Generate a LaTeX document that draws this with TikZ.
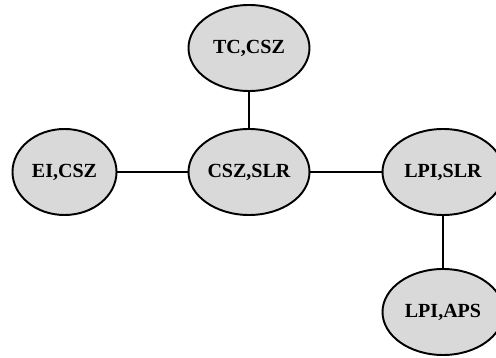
\documentclass[tikz,border=0pt]{standalone}
\usepackage{fontspec}
\setmainfont{Liberation Serif}
\usetikzlibrary{shapes.geometric}

\tikzset{
  blob/.style={ellipse, draw=black, line width=1.1pt, fill=black!15,
    inner sep=0pt, minimum width=2.42cm, minimum height=1.72cm,
    font=\fontsize{11.4}{13}\selectfont\bfseries},
  link/.style={black, line width=0.8pt}
}

\begin{document}
\begin{tikzpicture}
\useasboundingbox (0,0) rectangle (9.92,7.16);
\node [blob] (tc) at (4.98,6.20) {TC,CSZ};
\node [blob, minimum width=2.08cm] (ei) at (1.29,3.72) {EI,CSZ};
\node [blob] (cs) at (4.98,3.72) {CSZ,SLR};
\node [blob] (ls) at (8.86,3.72) {LPI,SLR};
\node [blob] (la) at (8.86,0.92) {LPI,APS};
\draw [link] (tc) -- (cs);
\draw [link] (ei) -- (cs);
\draw [link] (cs) -- (ls);
\draw [link] (ls) -- (la);
\end{tikzpicture}
\end{document}
